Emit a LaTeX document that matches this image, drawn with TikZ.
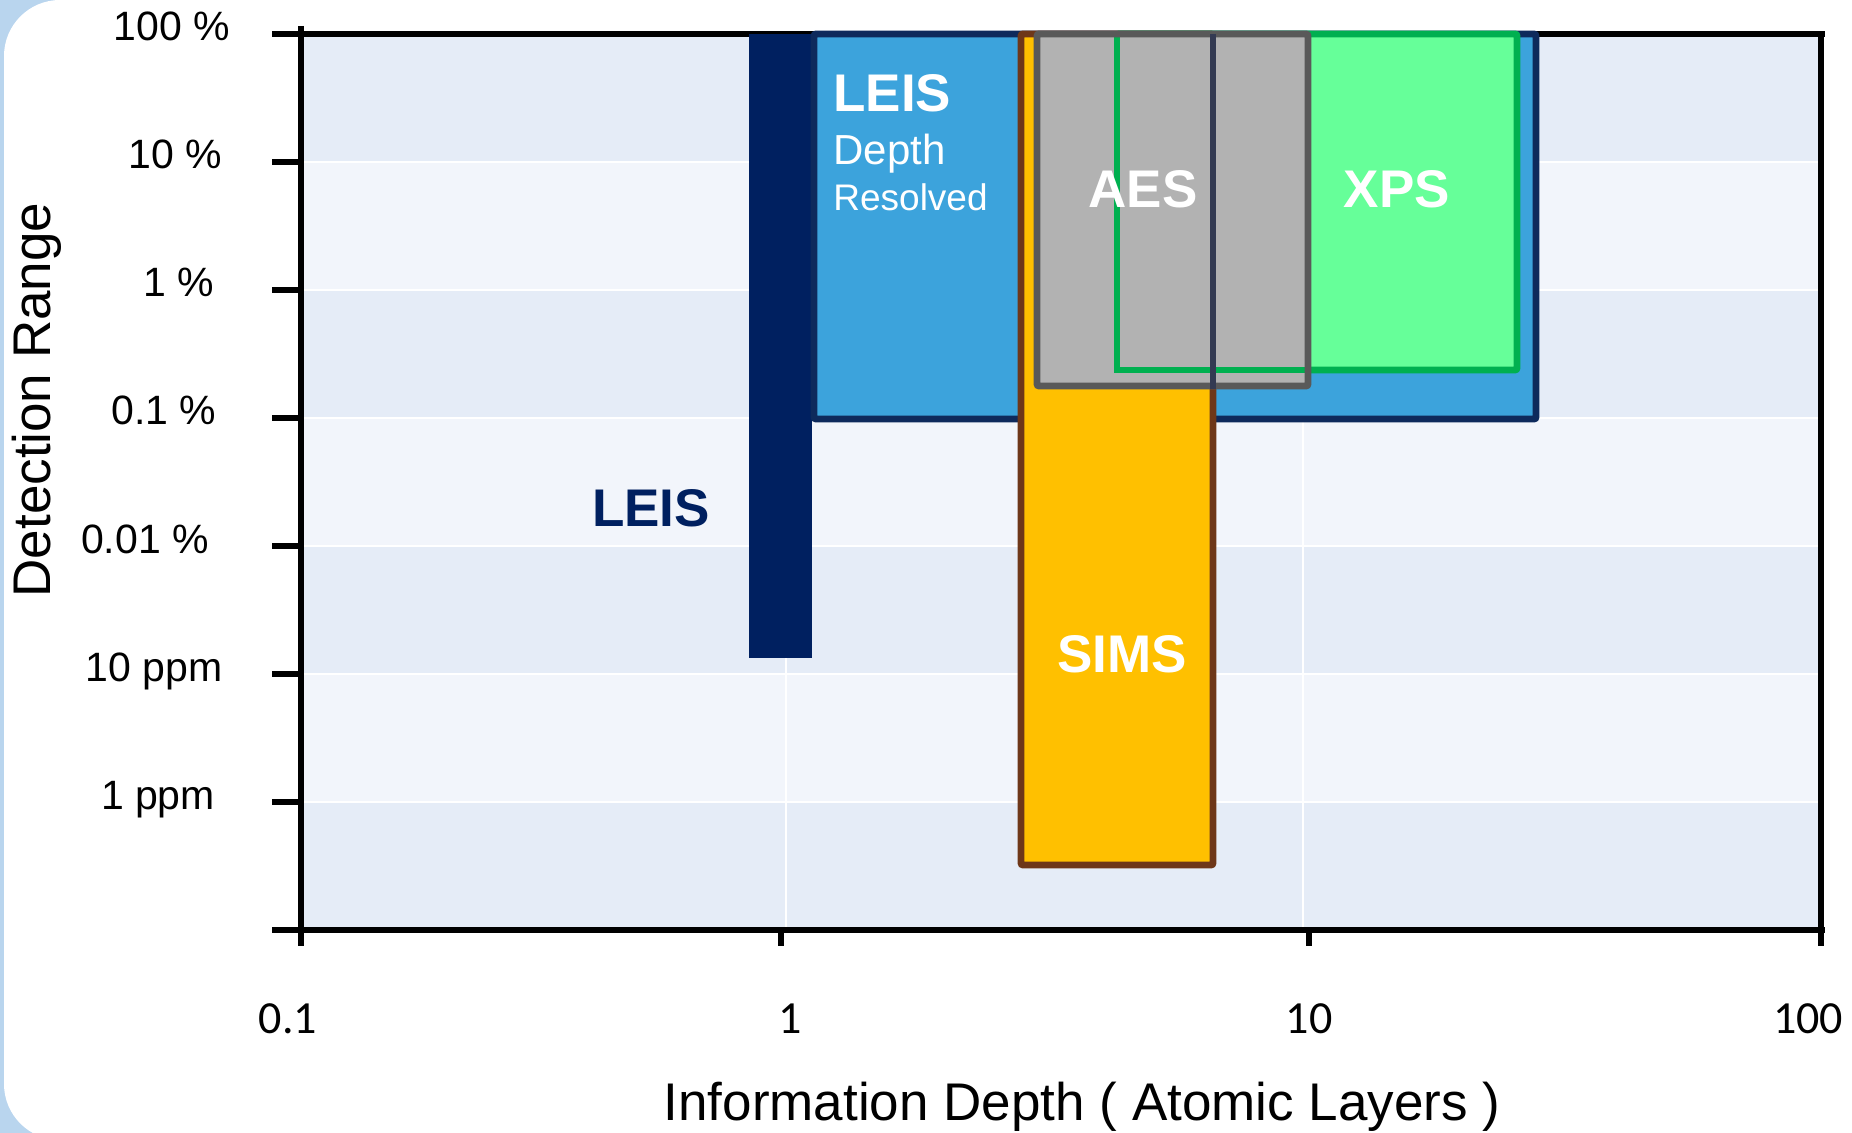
\documentclass[tikz,border=0pt]{standalone}
\usepackage{fontspec}
\setmainfont{Liberation Sans}
\newfontfamily\calfont{Carlito}
\definecolor{framebg}{HTML}{B9D5EE}
\definecolor{banddark}{HTML}{E5ECF7}
\definecolor{bandlight}{HTML}{F2F5FB}
\definecolor{navybar}{HTML}{002060}
\definecolor{leisedge}{HTML}{0E2A5C}
\definecolor{leisfill}{HTML}{3CA3DC}
\definecolor{simsfill}{HTML}{FFC000}
\definecolor{simsedge}{HTML}{6E3719}
\definecolor{aesfill}{HTML}{B2B2B2}
\definecolor{aesedge}{HTML}{595959}
\definecolor{xpsfill}{HTML}{66FF99}
\definecolor{xpsedge}{HTML}{00B050}
\definecolor{slate}{HTML}{333A52}
\begin{document}
\begin{tikzpicture}[x=0.5pt,y=-0.5pt,
  axisline/.style={line width=3.3pt, black},
  gridline/.style={line width=1.4pt, white},
  boxedge/.style={line width=3.4pt, rounded corners=1pt},
  ylab/.style={inner sep=0pt, anchor=base, font=\fontsize{20.5}{24}\selectfont},
  xlab/.style={inner sep=0pt, anchor=base, font=\calfont\fontsize{23}{27}\selectfont},
  axtitle/.style={inner sep=0pt, anchor=base, font=\fontsize{26.5}{30}\selectfont},
  boldlab/.style={inner sep=0pt, font=\fontsize{26.5}{30}\selectfont\bfseries}]
\useasboundingbox (0,0) rectangle (1852,1133);
% frame background
\fill[framebg] (0,0) rectangle (1852,1133);
\fill[white, rounded corners=28pt] (4,0) rectangle (1940,1140);
% plot bands
\foreach \k in {0,2,4,6} \fill[banddark] (301,{34+128*\k}) rectangle (1821,{162+128*\k});
\foreach \k in {1,3,5} \fill[bandlight] (301,{34+128*\k}) rectangle (1821,{162+128*\k});
\foreach \yy in {162,290,418,546,674,802} \draw[gridline] (301,\yy) -- (1821,\yy);
\draw[gridline] (786,34) -- (786,930);
\draw[gridline] (1303,34) -- (1303,930);
% axes
\draw[axisline] (272,34) -- (1824.5,34);
\draw[axisline] (1821,34) -- (1821,946);
\draw[axisline] (272,930) -- (1824.5,930);
\draw[axisline] (301,26) -- (301,946);
\foreach \yy in {162,290,418,546,674,802} \draw[axisline] (272,\yy) -- (301,\yy);
\draw[axisline] (781,930) -- (781,946);
\draw[axisline] (1309,930) -- (1309,946);
% boxes
\fill[navybar] (749,34) rectangle (812,658);
\draw[boxedge, draw=leisedge, fill=leisfill] (814,34) rectangle (1536,419);
\draw[boxedge, draw=simsedge, fill=simsfill] (1021,34) rectangle (1213,865);
\draw[boxedge, draw=xpsedge, fill=xpsfill] (1117,34) rectangle (1517,370);
\fill[aesfill] (1037,34) rectangle (1308,386);
\draw[line width=3.3pt, xpsedge] (1117,34) -- (1117,370) -- (1308,370);
\draw[boxedge, draw=aesedge] (1037,34) rectangle (1308,386);
\draw[line width=3.4pt, slate] (1213,34) -- (1213,389);
% y tick labels
\node[ylab] (y100) at (172,41) {100 \%};
\node[ylab] (y10) at (175,169) {10 \%};
\node[ylab] (y1) at (179,297) {1 \%};
\node[ylab] (y01) at (164,425) {0.1 \%};
\node[ylab] (y001) at (145,553) {0.01 \%};
\node[ylab] (y10ppm) at (154,681) {10 ppm};
\node[ylab] (y1ppm) at (158,809) {1 ppm};
% x tick labels
\node[xlab] (x01) at (288,1033) {0.1};
\node[xlab] (x1) at (790,1033) {1};
\node[xlab] (x10) at (1309,1033) {10};
\node[xlab] (x100) at (1808,1033) {100};
% axis titles
\node[axtitle] (xtitle) at (1082,1120) {Information Depth ( Atomic Layers )};
\node[axtitle, rotate=90] (ytitle) at (50,400) {Detection Range};
% technique labels
\node[boldlab, text=navybar, anchor=base] (leisA) at (651,527) {LEIS};
\node[boldlab, text=white, anchor=base west] (leisB) at (833,112) {LEIS};
\node[inner sep=0pt, anchor=base west, text=white, font=\fontsize{21}{24}\selectfont] (depth) at (833,165) {Depth};
\node[inner sep=0pt, anchor=base west, text=white, font=\fontsize{18.5}{22}\selectfont] (resolved) at (833,211) {Resolved};
\node[boldlab, text=white, anchor=base] (aes) at (1143,208) {AES};
\node[boldlab, text=white, anchor=base] (xps) at (1397,208) {XPS};
\node[boldlab, text=white, anchor=base] (sims) at (1122,672) {SIMS};
\end{tikzpicture}
\end{document}
